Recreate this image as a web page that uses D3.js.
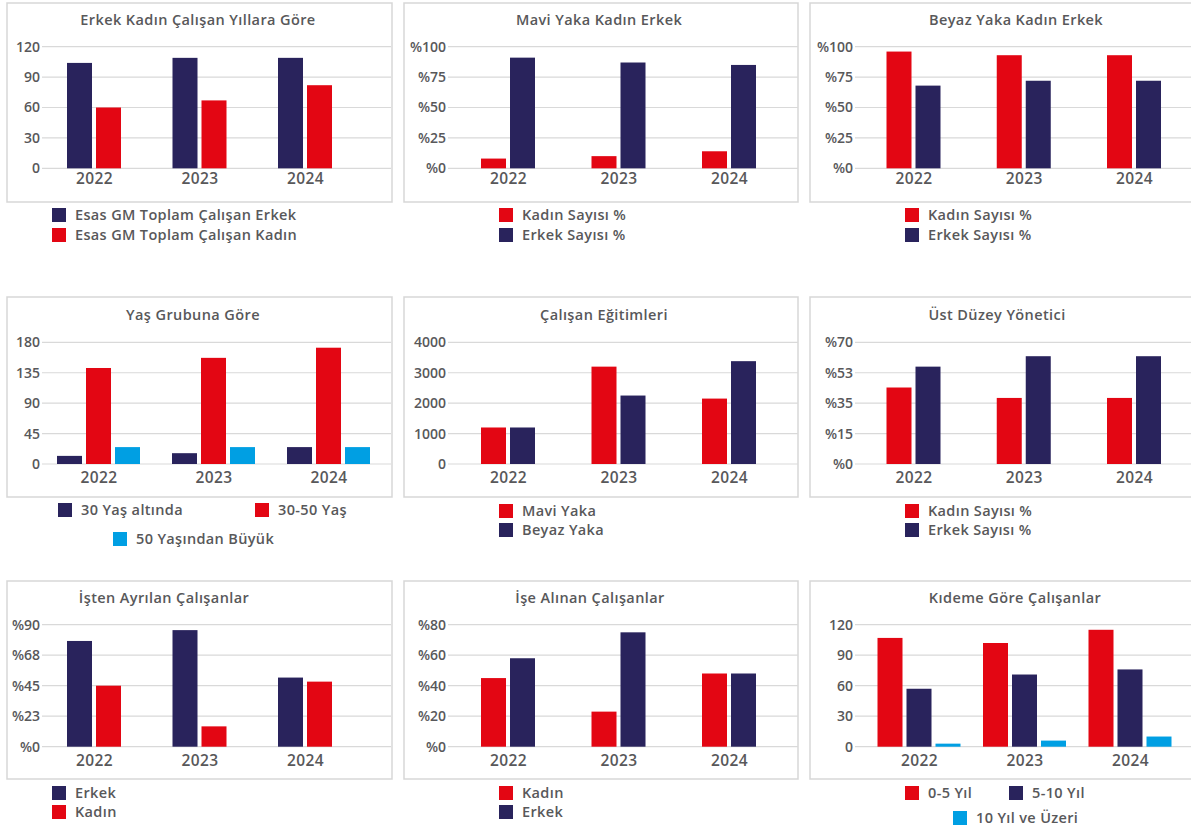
<!DOCTYPE html>
<html>
<head>
<meta charset="utf-8">
<script src="https://cdn.jsdelivr.net/npm/d3@7"></script>
<style>
  html, body { margin: 0; padding: 0; background: #fff; }
  svg { display: block; font-family: "Open Sans", "Noto Sans", sans-serif; }
  text { fill: #58585a; }
</style>
</head>
<body>
<svg id="chart" width="1191" height="827"></svg>
<script>
// ---------- DATA ----------
const years = ["2022", "2023", "2024"];

// 1. Erkek Kadın Çalışan Yıllara Göre
const p1Series = ["Esas GM Toplam Çalışan Erkek", "Esas GM Toplam Çalışan Kadın"];
const p1Erkek = [104, 109, 109];
const p1Kadin = [60, 67, 82];
const p1Ticks = [0, 30, 60, 90, 120];
const p1TickLabels = ["0", "30", "60", "90", "120"];

// 2. Mavi Yaka Kadın Erkek
const p2Series = ["Kadın Sayısı %", "Erkek Sayısı %"];
const p2Kadin = [8, 10, 14];
const p2Erkek = [91, 87, 85];
const p2Ticks = [0, 25, 50, 75, 100];
const p2TickLabels = ["%0", "%25", "%50", "%75", "%100"];

// 3. Beyaz Yaka Kadın Erkek
const p3Series = ["Kadın Sayısı %", "Erkek Sayısı %"];
const p3Kadin = [96, 93, 93];
const p3Erkek = [68, 72, 72];
const p3Ticks = [0, 25, 50, 75, 100];
const p3TickLabels = ["%0", "%25", "%50", "%75", "%100"];

// 4. Yaş Grubuna Göre
const p4Series = ["30 Yaş altında", "30-50 Yaş", "50 Yaşından Büyük"];
const p4Alti30 = [12, 16, 25];
const p4Yas3050 = [142, 157, 172];
const p4Ustu50 = [25, 25, 25];
const p4Ticks = [0, 45, 90, 135, 180];
const p4TickLabels = ["0", "45", "90", "135", "180"];

// 5. Çalışan Eğitimleri
const p5Series = ["Mavi Yaka", "Beyaz Yaka"];
const p5Mavi = [1200, 3200, 2150];
const p5Beyaz = [1200, 2250, 3380];
const p5Ticks = [0, 1000, 2000, 3000, 4000];
const p5TickLabels = ["0", "1000", "2000", "3000", "4000"];

// 6. Üst Düzey Yönetici
const p6Series = ["Kadın Sayısı %", "Erkek Sayısı %"];
const p6Kadin = [44, 38, 38];
const p6Erkek = [56, 62, 62];
const p6Ticks = [0, 17.5, 35, 52.5, 70];
const p6TickLabels = ["%0", "%15", "%35", "%53", "%70"];

// 7. İşten Ayrılan Çalışanlar
const p7Series = ["Erkek", "Kadın"];
const p7Erkek = [78, 86, 51];
const p7Kadin = [45, 15, 48];
const p7Ticks = [0, 22.5, 45, 67.5, 90];
const p7TickLabels = ["%0", "%23", "%45", "%68", "%90"];

// 8. İşe Alınan Çalışanlar
const p8Series = ["Kadın", "Erkek"];
const p8Kadin = [45, 23, 48];
const p8Erkek = [58, 75, 48];
const p8Ticks = [0, 20, 40, 60, 80];
const p8TickLabels = ["%0", "%20", "%40", "%60", "%80"];

// 9. Kıdeme Göre Çalışanlar
const p9Series = ["0-5 Yıl", "5-10 Yıl", "10 Yıl ve Üzeri"];
const p9Yil05 = [107, 102, 115];
const p9Yil510 = [57, 71, 76];
const p9Yil10 = [3, 6, 10];
const p9Ticks = [0, 30, 60, 90, 120];
const p9TickLabels = ["0", "30", "60", "90", "120"];

// ---------- STYLE / LAYOUT ----------
const NAVY = "#29235c", RED = "#e30613", CYAN = "#009fe3";
const TEXT = "#58585a";

const cols = [
  { bx: 7,   bw: 385, left: 42,  right: 391 },
  { bx: 404, bw: 394, left: 448, right: 798 },
  { bx: 810, bw: 400, left: 855, right: 1191 }
];
const rows = [
  { by: 3,   bh: 199, top: 46.7,  bottom: 168.3, titleY: 25,  yearY: 184 },
  { by: 297, bh: 200, top: 342.3, bottom: 464,   titleY: 320, yearY: 483 },
  { by: 581, bh: 198, top: 624.7, bottom: 746.7, titleY: 603, yearY: 766 }
];

const panels = [
  { title: "Erkek Kadın Çalışan Yıllara Göre", c: 0, r: 0, titleX: 198, xr: [94, 305],
    series: p1Series, values: [p1Erkek, p1Kadin], colors: [NAVY, RED], max: 120,
    ticks: p1Ticks, tickLabels: p1TickLabels, legend: [[52, 208], [52, 228]] },
  { title: "Mavi Yaka Kadın Erkek", c: 1, r: 0, titleX: 599, xr: [508, 729],
    series: p2Series, values: [p2Kadin, p2Erkek], colors: [RED, NAVY], max: 100,
    ticks: p2Ticks, tickLabels: p2TickLabels, legend: [[499, 208], [499, 228]] },
  { title: "Beyaz Yaka Kadın Erkek", c: 2, r: 0, titleX: 1016, xr: [913.5, 1134],
    series: p3Series, values: [p3Kadin, p3Erkek], colors: [RED, NAVY], max: 100,
    ticks: p3Ticks, tickLabels: p3TickLabels, legend: [[905, 208], [905, 228]] },
  { title: "Yaş Grubuna Göre", c: 0, r: 1, titleX: 193, xr: [98.5, 328.5],
    series: p4Series, values: [p4Alti30, p4Yas3050, p4Ustu50], colors: [NAVY, RED, CYAN], max: 180,
    ticks: p4Ticks, tickLabels: p4TickLabels, legend: [[58, 503], [255, 503], [113, 532]] },
  { title: "Çalışan Eğitimleri", c: 1, r: 1, titleX: 604, xr: [508, 729],
    series: p5Series, values: [p5Mavi, p5Beyaz], colors: [RED, NAVY], max: 4000,
    ticks: p5Ticks, tickLabels: p5TickLabels, legend: [[499, 504], [499, 523]] },
  { title: "Üst Düzey Yönetici", c: 2, r: 1, titleX: 997, xr: [913.5, 1134],
    series: p6Series, values: [p6Kadin, p6Erkek], colors: [RED, NAVY], max: 70,
    ticks: p6Ticks, tickLabels: p6TickLabels, legend: [[905, 504], [905, 523]] },
  { title: "İşten Ayrılan Çalışanlar", c: 0, r: 2, titleX: 164, xr: [94, 305],
    series: p7Series, values: [p7Erkek, p7Kadin], colors: [NAVY, RED], max: 90,
    ticks: p7Ticks, tickLabels: p7TickLabels, legend: [[52, 786], [52, 805]] },
  { title: "İşe Alınan Çalışanlar", c: 1, r: 2, titleX: 590, xr: [508, 729],
    series: p8Series, values: [p8Kadin, p8Erkek], colors: [RED, NAVY], max: 80,
    ticks: p8Ticks, tickLabels: p8TickLabels, legend: [[499, 786], [499, 805]] },
  { title: "Kıdeme Göre Çalışanlar", c: 2, r: 2, titleX: 1015, xr: [919, 1130],
    series: p9Series, values: [p9Yil05, p9Yil510, p9Yil10], colors: [RED, NAVY, CYAN], max: 120,
    ticks: p9Ticks, tickLabels: p9TickLabels, legend: [[905, 786], [1009, 786], [953, 811]] }
];

const BAR_W = 25, BAR_STEP = 29;

const svg = d3.select("#chart");

panels.forEach(p => {
  const col = cols[p.c], row = rows[p.r];
  const g = svg.append("g");

  // border
  g.append("rect")
    .attr("x", col.bx).attr("y", row.by)
    .attr("width", col.bw).attr("height", row.bh)
    .attr("fill", "none").attr("stroke", "#d7d7d7").attr("stroke-width", 1.5);

  // title
  g.append("text")
    .attr("x", p.titleX).attr("y", row.titleY)
    .attr("text-anchor", "middle")
    .style("font-size", "14.5px").style("font-weight", 600)
    .style("letter-spacing", "0.4px")
    .text(p.title);

  // scales
  const y = d3.scaleLinear().domain([0, p.max]).range([row.bottom, row.top]);
  const x = d3.scalePoint().domain(years).range(p.xr);
  const n = p.series.length;
  const groupW = n * BAR_STEP - (BAR_STEP - BAR_W);
  const xs = d3.scaleBand().domain(d3.range(n))
    .range([-groupW / 2, groupW / 2])
    .paddingInner((BAR_STEP - BAR_W) / BAR_STEP).paddingOuter(0);

  // gridlines
  g.append("g")
    .selectAll("line").data(p.ticks).join("line")
    .attr("x1", col.left).attr("x2", col.right)
    .attr("y1", d => y(d)).attr("y2", d => y(d))
    .attr("stroke", "#d9d9d9").attr("stroke-width", 1.2);

  // y axis labels
  const yAxis = d3.axisLeft(y)
    .tickValues(p.ticks)
    .tickSize(0).tickPadding(0)
    .tickFormat((d, i) => p.tickLabels[i]);
  const ya = g.append("g").attr("transform", `translate(${col.left - 2},0)`).call(yAxis);
  ya.select(".domain").remove();
  ya.selectAll("text")
    .style("font-size", "14px").style("font-family", "\"Open Sans\", sans-serif")
    .style("font-weight", 600)
    .attr("fill", TEXT);

  // bars
  p.series.forEach((s, si) => {
    g.append("g")
      .selectAll("rect").data(p.values[si]).join("rect")
      .attr("x", (d, i) => x(years[i]) + xs(si))
      .attr("width", xs.bandwidth())
      .attr("y", d => y(d))
      .attr("height", d => y(0) - y(d))
      .attr("fill", p.colors[si]);
  });

  // x axis year labels
  const xAxis = d3.axisBottom(x).tickSize(0).tickPadding(0);
  const xa = g.append("g").attr("transform", `translate(0,${row.yearY - 12})`).call(xAxis);
  xa.select(".domain").remove();
  xa.selectAll("text")
    .attr("dy", "0.75em")
    .style("font-size", "15.5px").style("font-family", "\"Open Sans\", sans-serif")
    .style("font-weight", 600).style("letter-spacing", "0.4px")
    .attr("fill", TEXT);

  // legend
  const lg = g.append("g")
    .selectAll("g").data(p.series).join("g")
    .attr("transform", (d, i) => `translate(${p.legend[i][0]},${p.legend[i][1]})`);
  lg.append("rect").attr("width", 14).attr("height", 14)
    .attr("fill", (d, i) => p.colors[i]);
  lg.append("text").attr("x", 23).attr("y", 12)
    .style("font-size", "14.5px").style("font-weight", 600)
    .style("letter-spacing", "0.35px")
    .text(d => d);
});
</script>
</body>
</html>
